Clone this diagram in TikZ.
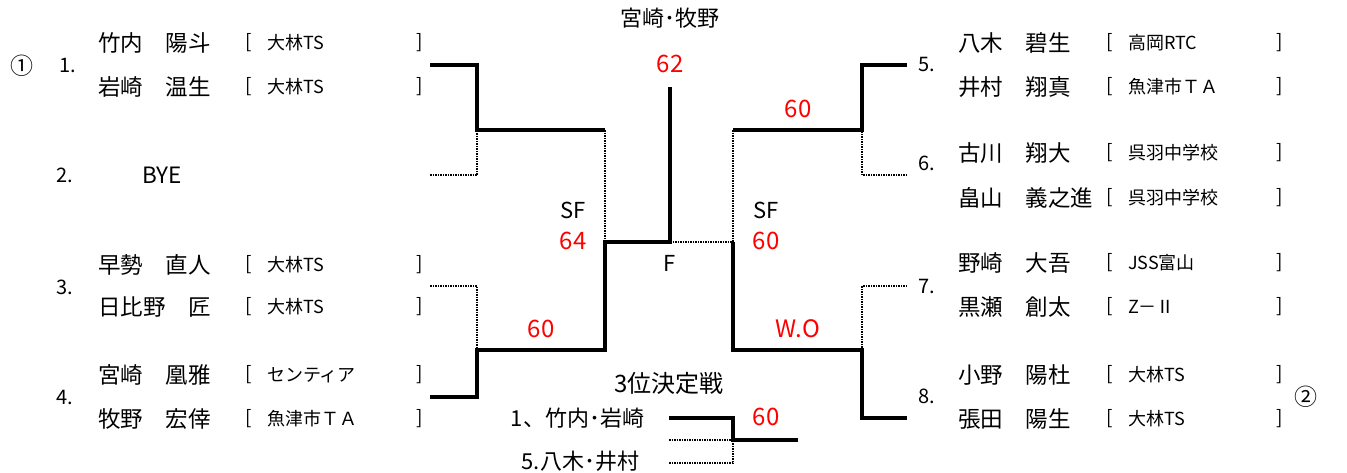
\documentclass[tikz,border=0pt]{standalone}
\usepackage{fontspec}
\setmainfont{Noto Sans CJK JP}
\definecolor{scorered}{RGB}{255,0,0}
\begin{document}
\begin{tikzpicture}[x=1pt,y=-1pt,
  every node/.style={inner sep=0pt, outer sep=0pt},
  nm/.style={anchor=west, font=\fontsize{22.5}{22.5}\selectfont},
  club/.style={anchor=west, font=\fontsize{18}{18}\selectfont},
  brk/.style={anchor=west, font=\fontsize{19}{19}\selectfont},
  num/.style={anchor=west, font=\fontsize{20}{20}\selectfont},
  circ/.style={anchor=west, font=\fontsize{23}{23}\selectfont},
  score/.style={text=scorered, font=\fontsize{24}{24}\selectfont},
  lbl/.style={font=\fontsize{22}{22}\selectfont},
  win/.style={line width=4.2pt, line join=miter},
  lose/.style={line width=1.5pt, dash pattern=on 1.5pt off 1pt},
]
\useasboundingbox (0,0) rectangle (1347,472);

% ---------- left players ----------
\foreach \n/\pn/\cl/\y in {a1/竹内　陽斗/大林TS/43, a2/岩崎　温生/大林TS/87,
  a3/早勢　直人/大林TS/265, a4/日比野　匠/大林TS/307,
  a5/宮崎　凰雅/センティア/375, a6/牧野　宏倖/魚津市ＴＡ/419}{
  \node[nm] (\n) at (98,\y) {\pn};
  \node[brk] (\n o) at (245,\y) {[};
  \node[club] (\n c) at (267,\y) {\cl};
  \node[brk] (\n e) at (416,\y) {]};
}
% ---------- right players ----------
\foreach \n/\pn/\cl/\y in {b1/八木　碧生/高岡RTC/43, b2/井村　翔真/魚津市ＴＡ/87,
  b3/古川　翔大/呉羽中学校/153, b4/畠山　義之進/呉羽中学校/198,
  b5/野崎　大吾/JSS富山/263, b6/黒瀬　創太/Z－Ⅱ/307,
  b7/小野　陽杜/大林TS/375, b8/張田　陽生/大林TS/419}{
  \node[nm] (\n) at (958,\y) {\pn};
  \node[brk] (\n o) at (1106,\y) {[};
  \node[club] (\n c) at (1128,\y) {\cl};
  \node[brk] (\n e) at (1276,\y) {]};
}
% ---------- draw numbers ----------
\node[circ] (s1) at (10,66) {①};
\node[num] (n1) at (59,65) {1.};
\node[num] (n2) at (56,175) {2.};
\node[nm] (bye) at (142,175) {BYE};
\node[num] (n3) at (56,287) {3.};
\node[num] (n4) at (56,397) {4.};
\node[num] (n5) at (918,64) {5.};
\node[num] (n6) at (918,163) {6.};
\node[num] (n7) at (918,286) {7.};
\node[num] (n8) at (918,396) {8.};
\node[circ] (s2) at (1294,397) {②};

% ---------- bracket points ----------
\coordinate (p1) at (430,65);
\coordinate (p2) at (430,175);
\coordinate (p3) at (430,286);
\coordinate (p4) at (430,397);
\coordinate (m1) at (477,130);
\coordinate (m2) at (477,350);
\coordinate (sfL) at (605,242);
\coordinate (fC) at (670,242);
\coordinate (top) at (670,87);
\coordinate (sfR) at (733,242);
\coordinate (m3) at (862,130);
\coordinate (m4) at (862,350);
\coordinate (p5) at (907,65);
\coordinate (p6) at (907,175);
\coordinate (p7) at (907,286);
\coordinate (p8) at (907,418);
% third place
\coordinate (t1) at (669,418);
\coordinate (t2) at (669,440);
\coordinate (t3) at (669,463);
\coordinate (tm) at (733,440);
\coordinate (tw) at (798,440);

% ---------- left half ----------
\draw[lose] (p2) -| (m1);
\draw[lose] (sfL |- m1) -- (sfL);
\draw[lose] (p3) -| (m2);
\draw[win] (p1) -| (m1) -- (sfL |- m1);
\draw[win] (p4) -| (m2) -- (sfL |- m2) -- (sfL) -- (fC) -- (top);
% ---------- right half ----------
\draw[lose] (fC) -- (sfR);
\draw[lose] (p6) -| (m3);
\draw[lose] (sfR |- m3) -- (sfR);
\draw[lose] (p7) -| (m4);
\draw[win] (p5) -| (m3) -- (sfR |- m3);
\draw[win] (p8) -| (m4) -- (sfR |- m4) -- (sfR);
% ---------- third place ----------
\draw[lose] (t2) -- (tm);
\draw[lose] (t3) -| (tm);
\draw[win] (t1) -| (tm) -- (tw);

% ---------- labels ----------
\node[lbl] (champ) at (670,18) {宮崎･牧野};
\node[score] (sc62) at (670,64) {62};
\node[score] (sc60a) at (798,109) {60};
\node[lbl] (sfl) at (573,210) {SF};
\node[score] (sc64) at (573,241) {64};
\node[lbl] (sfr) at (766,210) {SF};
\node[score] (sc60b) at (766,241) {60};
\node[lbl] (fin) at (670,263) {F};
\node[score] (sc60c) at (541,329) {60};
\node[score] (wo) at (798,329) {W.O};
\node[lbl, font=\fontsize{24}{24}\selectfont] (third) at (669,383) {3位決定戦};
\node[lbl, anchor=east] (tp1) at (644,418) {1、竹内･岩崎};
\node[score] (sc60d) at (766,417) {60};
\node[lbl, anchor=east] (tp2) at (639,461) {5.八木･井村};
\end{tikzpicture}
\end{document}
